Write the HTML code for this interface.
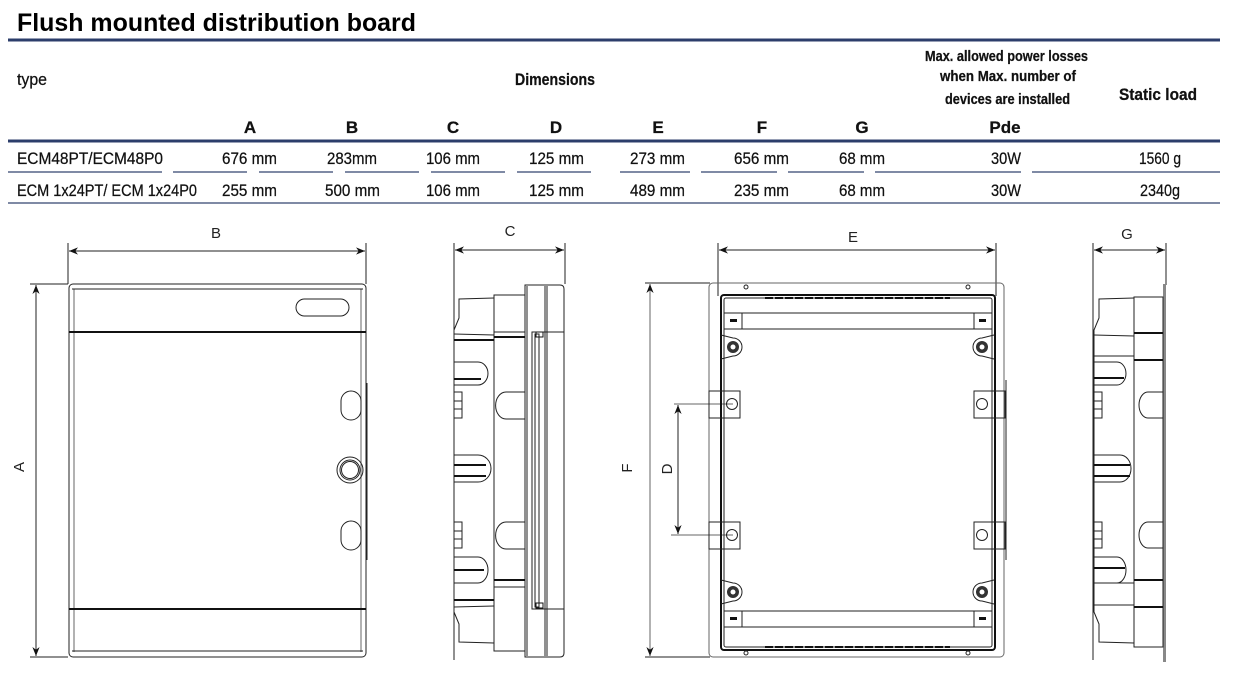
<!DOCTYPE html>
<html><head><meta charset="utf-8"><style>
html,body{margin:0;padding:0;background:#fff;}
svg{display:block;}
.t{font-family:"Liberation Sans",sans-serif;fill:#111;stroke:#111;stroke-width:0.25;}
.h{font-family:"Liberation Sans",sans-serif;font-weight:bold;fill:#000;}
.d{font-family:"Liberation Sans",sans-serif;fill:#222;font-size:15px;}
.l{fill:none;stroke:#222;stroke-width:1;}
.g{fill:none;stroke:#666;stroke-width:1;}
.k{fill:none;stroke:#111;stroke-width:2;}
</style></head><body>
<svg width="1236" height="686" viewBox="0 0 1236 686" xmlns="http://www.w3.org/2000/svg">
<defs>
<marker id="a" viewBox="0 0 10 10" refX="10" refY="5" markerWidth="9" markerHeight="9" orient="auto-start-reverse"><path d="M0,1 L10,5 L0,9 L3,5 z" fill="#111"/></marker>
</defs>
<text class="h" x="17" y="31" font-size="25" textLength="399" lengthAdjust="spacingAndGlyphs">Flush mounted distribution board</text>
<rect x="8" y="38.5" width="1212" height="3" fill="#2c3e6b"/>
<g class="t" font-size="17">
<text x="17" y="85" textLength="30" lengthAdjust="spacingAndGlyphs">type</text>
<text x="515" y="85" font-weight="bold" textLength="80" lengthAdjust="spacingAndGlyphs">Dimensions</text>
<text x="925" y="61" font-size="14.5" font-weight="bold" textLength="163" lengthAdjust="spacingAndGlyphs">Max. allowed power losses</text>
<text x="940" y="81" font-size="14.5" font-weight="bold" textLength="136" lengthAdjust="spacingAndGlyphs">when Max. number of</text>
<text x="945" y="104" font-size="14.5" font-weight="bold" textLength="125" lengthAdjust="spacingAndGlyphs">devices are installed</text>
<text x="1119" y="100" font-weight="bold" textLength="78" lengthAdjust="spacingAndGlyphs">Static load</text>
<g font-weight="bold" text-anchor="middle">
<text x="250" y="133">A</text><text x="352" y="133">B</text><text x="453" y="133">C</text><text x="556" y="133">D</text><text x="658" y="133">E</text><text x="762" y="133">F</text><text x="862" y="133">G</text><text x="1005" y="133">Pde</text>
</g>
</g>
<rect x="8" y="139.5" width="1212" height="3" fill="#2c3e6b"/>
<g class="t" font-size="17">
<text x="17" y="164" textLength="146" lengthAdjust="spacingAndGlyphs">ECM48PT/ECM48P0</text>
<text x="222" y="164" textLength="55" lengthAdjust="spacingAndGlyphs">676 mm</text>
<text x="327" y="164" textLength="50" lengthAdjust="spacingAndGlyphs">283mm</text>
<text x="426" y="164" textLength="54" lengthAdjust="spacingAndGlyphs">106 mm</text>
<text x="529" y="164" textLength="55" lengthAdjust="spacingAndGlyphs">125 mm</text>
<text x="630" y="164" textLength="55" lengthAdjust="spacingAndGlyphs">273 mm</text>
<text x="734" y="164" textLength="55" lengthAdjust="spacingAndGlyphs">656 mm</text>
<text x="839" y="164" textLength="46" lengthAdjust="spacingAndGlyphs">68 mm</text>
<text x="991" y="164" textLength="30" lengthAdjust="spacingAndGlyphs">30W</text>
<text x="1139" y="164" textLength="42" lengthAdjust="spacingAndGlyphs">1560 g</text>
<text x="17" y="196" textLength="180" lengthAdjust="spacingAndGlyphs">ECM 1x24PT/ ECM 1x24P0</text>
<text x="222" y="196" textLength="55" lengthAdjust="spacingAndGlyphs">255 mm</text>
<text x="325" y="196" textLength="55" lengthAdjust="spacingAndGlyphs">500 mm</text>
<text x="426" y="196" textLength="54" lengthAdjust="spacingAndGlyphs">106 mm</text>
<text x="529" y="196" textLength="55" lengthAdjust="spacingAndGlyphs">125 mm</text>
<text x="630" y="196" textLength="55" lengthAdjust="spacingAndGlyphs">489 mm</text>
<text x="734" y="196" textLength="55" lengthAdjust="spacingAndGlyphs">235 mm</text>
<text x="839" y="196" textLength="46" lengthAdjust="spacingAndGlyphs">68 mm</text>
<text x="991" y="196" textLength="30" lengthAdjust="spacingAndGlyphs">30W</text>
<text x="1140" y="196" textLength="40" lengthAdjust="spacingAndGlyphs">2340g</text>
</g>
<g fill="#7f8aa5">
<rect x="8" y="171" width="154" height="2"/><rect x="173" y="171" width="74" height="2"/><rect x="259" y="171" width="74" height="2"/><rect x="345" y="171" width="74" height="2"/><rect x="431" y="171" width="74" height="2"/><rect x="517" y="171" width="74" height="2"/><rect x="620" y="171" width="70" height="2"/><rect x="701" y="171" width="76" height="2"/><rect x="788" y="171" width="76" height="2"/><rect x="875" y="171" width="146" height="2"/><rect x="1032" y="171" width="188" height="2"/>
</g>
<rect x="8" y="202" width="1212" height="2" fill="#7f8aa5"/>

<g>
<line class="l" x1="68" y1="243" x2="68" y2="284"/><line class="l" x1="366" y1="243" x2="366" y2="284"/>
<line class="l" x1="69" y1="251" x2="365" y2="251" marker-start="url(#a)" marker-end="url(#a)"/>
<text class="d" x="216" y="238" text-anchor="middle">B</text>
<line class="l" x1="30" y1="284" x2="68" y2="284"/><line class="l" x1="30" y1="657" x2="68" y2="657"/>
<line class="l" x1="36" y1="285" x2="36" y2="656" marker-start="url(#a)" marker-end="url(#a)"/>
<text class="d" x="24" y="467" text-anchor="middle" transform="rotate(-90 24 467)">A</text>
<rect class="l" x="69" y="284" width="297" height="373" rx="4"/>
<line class="g" x1="74" y1="289" x2="74" y2="652"/><line class="g" x1="361" y1="289" x2="361" y2="652"/>
<line class="l" x1="72" y1="289" x2="363" y2="289"/>
<line class="k" x1="69" y1="332" x2="366" y2="332"/>
<line class="k" x1="69" y1="609" x2="366" y2="609"/>
<line class="l" x1="72" y1="651" x2="363" y2="651"/>
<rect class="l" x="296" y="299" width="53" height="17" rx="8.5"/>
<rect class="l" x="341" y="391" width="20" height="29" rx="10"/>
<rect class="l" x="341" y="521" width="20" height="29" rx="10"/>
<circle class="l" cx="350" cy="470" r="13"/><circle class="l" cx="350" cy="470" r="10"/><circle class="l" cx="350" cy="470" r="8.5"/>
<line class="l" x1="367" y1="383" x2="367" y2="560"/>
</g>

<g>
<line class="l" x1="454" y1="243" x2="454" y2="660"/><line class="l" x1="565" y1="243" x2="565" y2="284"/>
<line class="l" x1="455" y1="250" x2="564" y2="250" marker-start="url(#a)" marker-end="url(#a)"/>
<text class="d" x="510" y="236" text-anchor="middle">C</text>
<path class="l" d="M525,285 L560,285 Q564,285 564,289 L564,653 Q564,657 560,657 L525,657 Z"/>
<line class="l" x1="527" y1="286" x2="527" y2="656"/>
<line class="l" x1="545" y1="286" x2="545" y2="656"/><line class="l" x1="547" y1="286" x2="547" y2="656"/>
<rect class="l" x="532" y="332" width="32" height="277"/>
<rect class="l" x="535" y="334" width="4" height="273"/>
<rect x="536" y="332" width="7" height="5" fill="none" stroke="#111"/><rect x="536" y="603" width="7" height="5" fill="none" stroke="#111"/>
<rect class="l" x="494" y="295" width="31" height="356"/>
<line class="l" x1="494" y1="332" x2="525" y2="332"/><line class="k" x1="494" y1="337" x2="525" y2="337"/>
<line class="k" x1="494" y1="580" x2="525" y2="580"/><line class="l" x1="494" y1="587" x2="525" y2="587"/>
<path class="l" d="M525,392 L506,392 A10,13 0 0 0 506,419 L525,419"/>
<path class="l" d="M525,522 L506,522 A10,13 0 0 0 506,549 L525,549"/>
<path class="l" d="M494,298 L459,299 L459,318 L454,330 L454,612 L459,624 L459,642 L494,643"/>
<line class="l" x1="454" y1="334" x2="494" y2="335"/><line class="k" x1="454" y1="340" x2="494" y2="340"/>
<line class="l" x1="454" y1="607" x2="494" y2="606"/><line class="k" x1="454" y1="600" x2="494" y2="600"/>
<path class="l" d="M454,362 L478,362 A10,11.5 0 0 1 478,385 L454,385"/><line class="k" x1="454" y1="379" x2="481" y2="379"/>
<path class="l" d="M454,455 L478,455 A13,13.5 0 0 1 478,482 L454,482"/><line class="k" x1="454" y1="465" x2="486" y2="465"/><line class="k" x1="454" y1="476" x2="486" y2="476"/>
<path class="l" d="M454,557 L478,557 A10,13 0 0 1 478,583 L454,583"/><line class="k" x1="454" y1="570" x2="484" y2="570"/>
<rect class="l" x="454" y="392" width="8" height="26"/><line class="l" x1="454" y1="401" x2="462" y2="401"/><line class="l" x1="454" y1="409" x2="462" y2="409"/>
<rect class="l" x="454" y="522" width="8" height="26"/><line class="l" x1="454" y1="531" x2="462" y2="531"/><line class="l" x1="454" y1="539" x2="462" y2="539"/>
</g>

<g>
<line class="l" x1="718" y1="243" x2="718" y2="296"/><line class="l" x1="996" y1="243" x2="996" y2="296"/>
<line class="l" x1="719" y1="250" x2="995" y2="250" marker-start="url(#a)" marker-end="url(#a)"/>
<text class="d" x="853" y="242" text-anchor="middle">E</text>
<line class="l" x1="645" y1="283" x2="710" y2="283"/><line class="l" x1="645" y1="657" x2="710" y2="657"/>
<line class="g" x1="650" y1="284" x2="650" y2="656" marker-start="url(#a)" marker-end="url(#a)"/>
<text class="d" x="632" y="468" text-anchor="middle" transform="rotate(-90 632 468)">F</text>
<line class="g" x1="674" y1="404" x2="733" y2="404"/><line class="g" x1="671" y1="535" x2="733" y2="535"/>
<line class="l" x1="678" y1="405" x2="678" y2="534" marker-start="url(#a)" marker-end="url(#a)"/>
<text class="d" x="672" y="469" text-anchor="middle" transform="rotate(-90 672 469)">D</text>
<rect class="g" x="709" y="283" width="295" height="374" rx="4"/>
<rect x="721" y="295" width="274" height="355" rx="3" fill="none" stroke="#111" stroke-width="2"/>
<rect class="l" x="724" y="298" width="268" height="349" rx="2"/>
<line x1="765" y1="298" x2="950" y2="298" stroke="#111" stroke-width="2" stroke-dasharray="8,2"/>
<line x1="765" y1="647" x2="950" y2="647" stroke="#111" stroke-width="2" stroke-dasharray="8,2"/>
<circle class="l" cx="746" cy="287" r="2"/><circle class="l" cx="968" cy="287" r="2"/><circle class="l" cx="746" cy="653" r="2"/><circle class="l" cx="968" cy="653" r="2"/>
<rect class="l" x="724" y="313" width="268" height="16"/><rect class="l" x="724" y="313" width="18" height="16"/><rect class="l" x="974" y="313" width="18" height="16"/>
<rect x="730" y="319" width="7" height="3" fill="#111"/><rect x="979" y="319" width="7" height="3" fill="#111"/>
<rect class="l" x="724" y="611" width="268" height="16"/><rect class="l" x="724" y="611" width="18" height="16"/><rect class="l" x="974" y="611" width="18" height="16"/>
<rect x="730" y="617" width="7" height="3" fill="#111"/><rect x="979" y="617" width="7" height="3" fill="#111"/>
<rect class="l" x="709" y="391" width="31" height="27"/><circle class="l" cx="732" cy="404" r="5.5"/>
<rect class="l" x="974" y="391" width="31" height="27"/><circle class="l" cx="982" cy="404" r="5.5"/>
<rect class="l" x="709" y="522" width="31" height="27"/><circle class="l" cx="732" cy="535" r="5.5"/>
<rect class="l" x="974" y="522" width="31" height="27"/><circle class="l" cx="982" cy="535" r="5.5"/>
<g>
<path class="l" d="M721,335 L733,338 A9,9 0 0 1 733,356 L721,359"/><circle cx="733" cy="347" r="6" fill="#333"/><circle cx="733" cy="347" r="2.5" fill="#fff"/>
<path class="l" d="M994,335 L982,338 A9,9 0 0 0 982,356 L994,359"/><circle cx="982" cy="347" r="6" fill="#333"/><circle cx="982" cy="347" r="2.5" fill="#fff"/>
<path class="l" d="M721,580 L733,583 A9,9 0 0 1 733,601 L721,604"/><circle cx="733" cy="592" r="6" fill="#333"/><circle cx="733" cy="592" r="2.5" fill="#fff"/>
<path class="l" d="M994,580 L982,583 A9,9 0 0 0 982,601 L994,604"/><circle cx="982" cy="592" r="6" fill="#333"/><circle cx="982" cy="592" r="2.5" fill="#fff"/>
</g>
<line class="l" x1="1006" y1="380" x2="1006" y2="560"/>
</g>

<g>
<line class="l" x1="1093" y1="243" x2="1093" y2="660"/><line class="l" x1="1166" y1="243" x2="1166" y2="285"/>
<line class="l" x1="1094" y1="250" x2="1165" y2="250" marker-start="url(#a)" marker-end="url(#a)"/>
<text class="d" x="1127" y="239" text-anchor="middle">G</text>
<rect x="1163" y="284" width="3" height="378" fill="#888"/>
<rect class="l" x="1134" y="297" width="29" height="350"/>
<line class="k" x1="1134" y1="333" x2="1163" y2="333"/><line class="k" x1="1134" y1="360" x2="1163" y2="360"/>
<line class="k" x1="1134" y1="580" x2="1163" y2="580"/><line class="k" x1="1134" y1="607" x2="1163" y2="607"/>
<path class="l" d="M1163,392 L1148,392 A9,13 0 0 0 1148,418 L1163,418"/>
<path class="l" d="M1163,522 L1148,522 A9,13 0 0 0 1148,548 L1163,548"/>
<path class="l" d="M1134,298 L1099,299 L1099,318 L1094,330 L1094,612 L1099,624 L1099,642 L1134,643"/>
<line class="l" x1="1094" y1="335" x2="1134" y2="336"/><line class="l" x1="1094" y1="356" x2="1134" y2="356"/>
<line class="l" x1="1094" y1="583" x2="1134" y2="583"/><line class="l" x1="1094" y1="605" x2="1134" y2="605"/>
<path class="l" d="M1094,362 L1117,362 A9,11.5 0 0 1 1117,385 L1094,385"/><line class="k" x1="1094" y1="378" x2="1124" y2="378"/>
<path class="l" d="M1094,455 L1120,455 A11,13.5 0 0 1 1120,482 L1094,482"/><line class="k" x1="1094" y1="465" x2="1130" y2="465"/><line class="k" x1="1094" y1="476" x2="1130" y2="476"/>
<path class="l" d="M1094,557 L1117,557 A9,13 0 0 1 1117,583 L1094,583"/><line class="k" x1="1094" y1="568" x2="1125" y2="568"/>
<rect class="l" x="1094" y="392" width="8" height="26"/><line class="l" x1="1094" y1="401" x2="1102" y2="401"/><line class="l" x1="1094" y1="409" x2="1102" y2="409"/>
<rect class="l" x="1094" y="522" width="8" height="26"/><line class="l" x1="1094" y1="531" x2="1102" y2="531"/><line class="l" x1="1094" y1="539" x2="1102" y2="539"/>
</g>
</svg>
</body></html>
